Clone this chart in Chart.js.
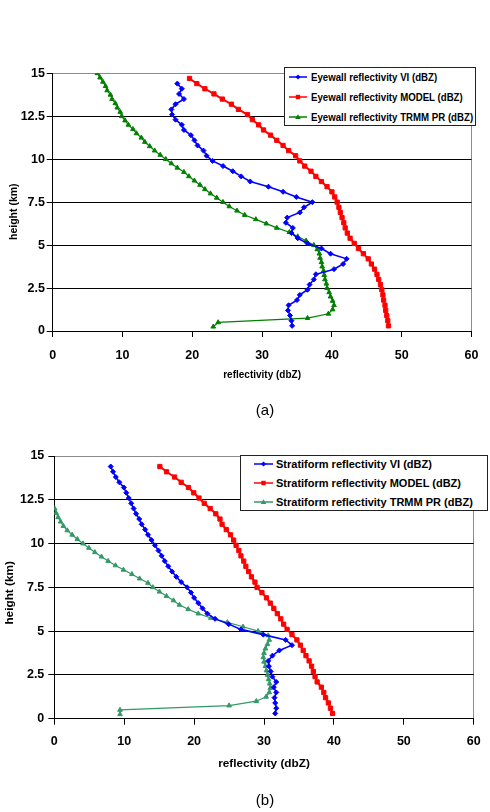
<!DOCTYPE html>
<html><head><meta charset="utf-8">
<script src="https://cdn.jsdelivr.net/npm/chart.js@4.4.0/dist/chart.umd.min.js"></script>
<style>
html,body{margin:0;padding:0;background:#fff;}
body{width:490px;height:812px;position:relative;overflow:hidden;font-family:"Liberation Sans",Arial,sans-serif;color:#000;}
canvas{position:absolute;left:0;}
.legend{position:absolute;background:#fff;border:1px solid #222;box-sizing:border-box;}
.item{position:absolute;left:0;height:0;}
.item svg{position:absolute;}
.item span{position:absolute;white-space:nowrap;font-weight:bold;line-height:14px;transform-origin:0 50%;}
.caption{position:absolute;width:80px;text-align:center;font-size:15px;line-height:17px;}
</style></head><body>
<canvas id="c1" width="490" height="420" style="top:0px"></canvas>
<canvas id="c2" width="490" height="392" style="top:420px"></canvas>
<div class="legend" id="leg1" style="left:284px;top:67px;width:192px;height:59px"></div>
<div class="legend" id="leg2" style="left:240px;top:455px;width:248px;height:56px"></div>
<div class="caption" style="left:225px;top:401px">(a)</div>
<div class="caption" style="left:225px;top:791px">(b)</div>
<script>
// ---------- data ----------
const X_TICK_LABELS = ['0','10','20','30','40','50','60'];
const Y_TICK_LABELS = ['0','2.5','5','7.5','10','12.5','15'];

// heights (km)
const H_EYE_PR = [15,14.75,14.5,14.25,14,13.75,13.5,13.25,13,12.75,12.5,12.25,12,11.75,11.5,11.25,11,10.75,10.5,10.25,10,9.75,9.5,9.25,9,8.75,8.5,8.25,8,7.75,7.5,7.25,7,6.75,6.5,6.25,6,5.75,5.5,5.25,5,4.75,4.5,4.25,4,3.75,3.5,3.25,3,2.75,2.5,2.25,2,1.75,1.5,1.25,1,0.75,0.5,0.25];
const H_EYE_MODEL = [14.7,14.4,14.1,13.8,13.5,13.2,12.9,12.6,12.3,12,11.7,11.4,11.1,10.8,10.5,10.2,9.9,9.6,9.3,9,8.7,8.4,8.1,7.8,7.5,7.2,6.9,6.6,6.3,6,5.7,5.4,5.1,4.8,4.5,4.2,3.9,3.6,3.3,3,2.7,2.4,2.1,1.8,1.5,1.2,0.9,0.6,0.3];
const H_VI = [14.4,14.1,13.8,13.5,13.2,12.9,12.6,12.3,12,11.7,11.4,11.1,10.8,10.5,10.2,9.9,9.6,9.3,9,8.7,8.4,8.1,7.8,7.5,7.2,6.9,6.6,6.3,6,5.7,5.4,5.1,4.8,4.5,4.2,3.9,3.6,3.3,3,2.7,2.4,2.1,1.8,1.5,1.2,0.9,0.6,0.3];
const H_STRAT_MODEL = [14.4,14.1,13.8,13.5,13.2,12.9,12.6,12.3,12,11.7,11.4,11.1,10.8,10.5,10.2,9.9,9.6,9.3,9,8.7,8.4,8.1,7.8,7.5,7.2,6.9,6.6,6.3,6,5.7,5.4,5.1,4.8,4.5,4.2,3.9,3.6,3.3,3,2.7,2.4,2.1,1.8,1.5,1.2,0.9,0.6,0.3];
const H_STRAT_PR = [12,11.75,11.5,11.25,11,10.75,10.5,10.25,10,9.75,9.5,9.25,9,8.75,8.5,8.25,8,7.75,7.5,7.25,7,6.75,6.5,6.25,6,5.75,5.5,5.25,5,4.75,4.5,4.25,4,3.75,3.5,3.25,3,2.75,2.5,2.25,2,1.75,1.5,1.25,1,0.75,0.5,0.25];

// (a) eyewall reflectivity (dBZ)
const EYE_VI = [17.85,18.5,18.1,18.8,17.6,17.0,17.1,17.6,18.5,18.8,19.8,20.3,20.75,21.6,22.05,22.9,24.4,25.8,27.0,28.3,30.9,33.0,34.9,37.2,36.0,35.4,33.6,33.4,34.4,34.2,35.1,36.5,38.5,39.8,42.1,41.6,40.3,37.7,37.4,36.8,36.5,35.4,35.0,33.8,33.7,34.0,34.2,34.3];
const EYE_MODEL = [19.6,20.65,21.8,23.1,24.3,25.6,26.6,27.9,28.6,29.5,30.2,31.2,32.1,33.0,33.8,34.8,35.4,36.1,37.0,37.7,38.5,39.3,40.0,40.4,40.75,41.0,41.2,41.45,41.7,41.9,42.2,42.6,43.2,43.8,44.5,45.2,45.65,46.1,46.45,46.7,46.95,47.15,47.3,47.4,47.6,47.7,47.85,48.0,48.1];
const EYE_PR = [6.4,6.78,7.2,7.57,7.8,8.27,8.5,8.97,9.25,9.67,9.9,10.37,10.84,11.5,12.0,12.7,13.2,13.9,14.6,15.4,16.2,17.0,17.85,18.8,19.5,20.3,21.1,21.8,22.6,23.5,24.4,25.3,26.4,27.5,29.1,30.6,32.1,33.9,35.1,36.3,37.4,37.9,38.2,38.3,38.5,38.6,38.8,38.9,39.0,39.2,39.3,39.6,39.8,40.1,40.3,40.1,39.5,36.5,23.7,23.0];

// (b) stratiform reflectivity (dBZ)
const STRAT_VI = [8.07,8.4,8.8,9.3,9.95,10.3,10.65,11.0,11.35,11.7,12.15,12.5,13.0,13.4,13.9,14.4,14.9,15.35,15.8,16.3,16.85,17.45,18.15,19.0,19.55,20.0,20.6,21.2,21.9,23.0,24.95,26.7,29.9,33.1,34.0,32.2,31.2,30.6,30.7,30.95,31.2,31.75,31.4,31.75,31.5,31.6,31.75,31.6];
const STRAT_MODEL = [15.1,16.05,17.2,18.15,19.2,19.95,20.7,21.45,22.3,23.1,23.7,24.0,24.6,25.2,25.65,26.0,26.4,26.7,27.1,27.4,27.8,28.2,28.7,29.0,29.7,30.35,30.9,31.4,31.9,32.4,32.8,33.3,34.0,34.7,35.2,35.6,36.0,36.45,36.8,37.05,37.3,37.6,38.2,38.55,38.8,39.2,39.5,39.8];
const STRAT_PR = [0.05,0.25,0.55,0.9,1.3,1.85,2.55,3.3,4.1,4.95,5.8,6.75,7.7,8.75,9.9,11.1,12.2,13.4,14.1,15.05,16.05,17.05,17.9,19.15,20.6,22.4,24.75,27.0,29.15,30.6,30.75,30.5,30.2,30.0,29.9,30.0,30.2,30.35,30.5,30.65,30.8,30.9,30.75,30.3,28.9,25.0,9.4,9.4];

const LABELS_A = ['Eyewall reflectivity VI (dBZ)','Eyewall reflectivity MODEL (dBZ)','Eyewall reflectivity TRMM PR (dBZ)'];
const LABELS_B = ['Stratiform reflectivity VI (dBZ)','Stratiform reflectivity MODEL (dBZ)','Stratiform reflectivity TRMM PR (dBZ)'];

// ---------- rendering ----------
const FONT = '"Liberation Sans", Arial, sans-serif';
const BLUE = '#0000ff', RED = '#ff0000';

function pts(hs, xs){ return xs.map((x,i)=>({x:x, y:hs[i]})); }

const yTitlePlugin = {
  id:'yTitle',
  afterDraw(chart, args, o){
    const ctx = chart.ctx;
    ctx.save();
    ctx.translate(o.x, o.y);
    ctx.rotate(-Math.PI/2);
    ctx.font = o.font;
    ctx.fillStyle = '#000';
    ctx.textAlign = 'center';
    ctx.textBaseline = 'middle';
    ctx.fillText(o.text, 0, 0);
    ctx.restore();
  }
};

function series(label, data, color, style, radius, width){
  return {label, data, showLine:true, borderColor:color, backgroundColor:color,
    borderWidth:width, pointStyle:style, pointRadius:radius, pointHoverRadius:radius,
    pointBorderWidth:1, pointBorderColor:color, pointBackgroundColor:color, tension:0};
}

function makeChart(id, ds, c){
  return new Chart(document.getElementById(id), {
    type:'scatter',
    data:{datasets:ds},
    plugins:[yTitlePlugin],
    options:{
      responsive:false, animation:false, devicePixelRatio:1,
      layout:{padding:c.padding},
      plugins:{legend:{display:false}, tooltip:{enabled:false},
        yTitle:{x:c.yt.x, y:c.yt.y, font:c.yt.font, text:'height (km)'}},
      scales:{
        x:{type:'linear', min:0, max:60,
          ticks:{stepSize:10, color:'#000', padding:c.xTickPad, maxRotation:0,
            font:{family:FONT, size:12.5, weight:'bold'},
            callback:(v,i)=>X_TICK_LABELS[i]},
          grid:{color:(k)=>k.tick && k.tick.value===60 ? '#8c8c8c' : 'rgba(0,0,0,0)',
            tickColor:'#000', tickLength:6, lineWidth:1},
          border:{color:'#000', width:1},
          title:{display:true, text:'reflectivity (dbZ)', color:'#000', padding:0,
            font:{family:FONT, size:c.xTitleSize, weight:'bold'}},
          afterFit:(s)=>{ s.height = c.xHeight; }
        },
        y:{type:'linear', min:0, max:15,
          ticks:{stepSize:2.5, color:'#000', padding:c.yTickPad,
            font:{family:FONT, size:12.5, weight:'bold'},
            callback:(v,i)=>Y_TICK_LABELS[i]},
          grid:{color:(k)=>k.tick && k.tick.value===15 ? '#8c8c8c' : '#000',
            tickColor:'#000', tickLength:6, lineWidth:1},
          border:{color:'#000', width:1},
          afterFit:(s)=>{ s.width = c.yWidth; }
        }
      }
    }
  });
}

makeChart('c1', [
  series(LABELS_A[0], pts(H_VI, EYE_VI), BLUE, 'rectRot', 2.5, 1.6),
  series(LABELS_A[1], pts(H_EYE_MODEL, EYE_MODEL), RED, 'rect', 3, 2),
  series(LABELS_A[2], pts(H_EYE_PR, EYE_PR), '#008000', 'triangle', 2.7, 1.2)
], {padding:{top:73.3, right:9.3, bottom:39, left:0}, yWidth:52.7, xHeight:50,
    xTickPad:11.5, yTickPad:1.7, xTitleSize:10,
    yt:{x:14.3, y:211.7, font:'bold 10.5px '+FONT}});

makeChart('c2', [
  series(LABELS_B[0], pts(H_VI, STRAT_VI), BLUE, 'rectRot', 2.5, 1.6),
  series(LABELS_B[1], pts(H_STRAT_MODEL, STRAT_MODEL), RED, 'rect', 3, 2),
  series(LABELS_B[2], pts(H_STRAT_PR, STRAT_PR), '#339966', 'triangle', 2.7, 1.2)
], {padding:{top:36, right:9.3, bottom:41.6, left:0}, yWidth:54.3, xHeight:51.7,
    xTickPad:9.3, yTickPad:4, xTitleSize:11.8,
    yt:{x:10, y:172.8, font:'bold 11.8px '+FONT}});

// ---------- legends ----------
function marker(style, cx, cy, color){
  if(style==='diamond') return `<polygon points="${cx},${cy-2.6} ${cx+2.6},${cy} ${cx},${cy+2.6} ${cx-2.6},${cy}" fill="${color}"/>`;
  if(style==='square') return `<rect x="${cx-2.2}" y="${cy-2.2}" width="4.4" height="4.4" fill="${color}"/>`;
  return `<polygon points="${cx},${cy-2.8} ${cx+2.8},${cy+2} ${cx-2.8},${cy+2}" fill="${color}"/>`;
}
function buildLegend(id, labels, colors, styles, ys, lx0, lx1, tx, fsize, sx){
  const el = document.getElementById(id);
  let html = '';
  labels.forEach((lab,i)=>{
    const w = lx1 - lx0;
    html += `<div class="item" style="top:${ys[i]}px">`+
      `<svg width="${w}" height="10" style="left:${lx0}px;top:-5px">`+
      `<line x1="0" y1="5" x2="${w}" y2="5" stroke="${colors[i]}" stroke-width="1.5"/>`+
      marker(styles[i], w/2, 5, colors[i])+`</svg>`+
      `<span style="left:${tx}px;top:-7px;font-size:${fsize}px;transform:scaleX(${sx})">${lab}</span></div>`;
  });
  el.innerHTML = html;
}
buildLegend('leg1', LABELS_A, [BLUE, RED, '#008000'], ['diamond','square','triangle'],
  [9.3, 28.7, 48.7], 4, 22, 25.7, 11.5, 0.84);
buildLegend('leg2', LABELS_B, [BLUE, RED, '#339966'], ['diamond','square','triangle'],
  [8.3, 27.3, 45.7], 13, 32, 35, 11, 1);
</script>
</body></html>
